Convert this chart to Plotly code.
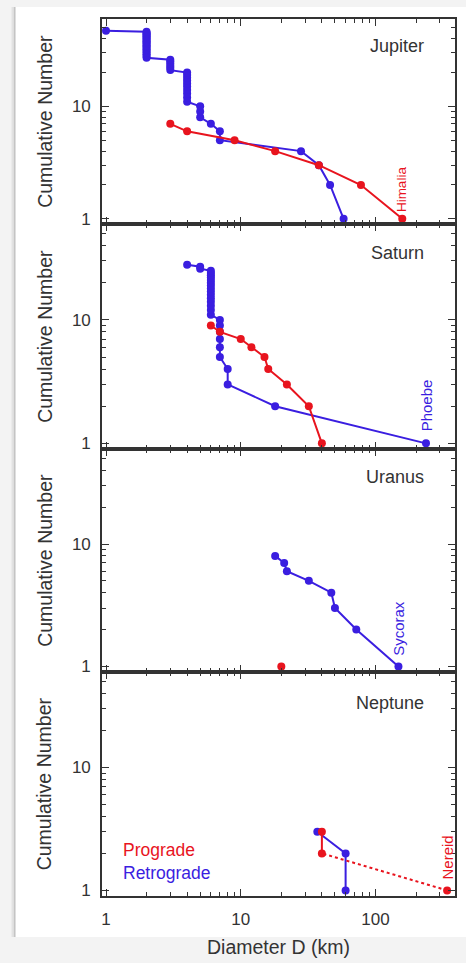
import plotly.graph_objects as go
from plotly.subplots import make_subplots
import math

# ---------------- data ----------------
planets = ["Jupiter", "Saturn", "Uranus", "Neptune"]

# Jupiter
jup_retro_D = [58, 46, 38, 28, 7, 7, 6, 5, 5, 5,
               4, 4, 4, 4, 4, 4, 4, 4, 4, 4,
               3, 3, 3, 3, 3, 3,
               2, 2, 2, 2, 2, 2, 2, 2, 2, 2, 2, 2, 2, 2, 2, 2, 2, 2, 2, 2,
               1]
jup_retro_N = [1, 2, 3, 4, 5, 6, 7, 8, 9, 10,
               11, 12, 13, 14, 15, 16, 17, 18, 19, 20,
               21, 22, 23, 24, 25, 26,
               27, 28, 29, 30, 31, 32, 33, 34, 35, 36, 37, 38, 39, 40, 41, 42, 43, 44, 45, 46,
               47]
jup_pro_D = [158, 78, 38, 18, 9, 4, 3]
jup_pro_N = [1, 2, 3, 4, 5, 6, 7]

# Saturn
sat_retro_D = [237, 18, 8, 8, 7, 7, 7, 7, 7, 7,
               6, 6, 6, 6, 6, 6, 6, 6, 6, 6, 6, 6, 6, 6, 6,
               5, 5, 4]
sat_retro_N = [1, 2, 3, 4, 5, 6, 7, 8, 9, 10,
               11, 12, 13, 14, 15, 16, 17, 18, 19, 20, 21, 22, 23, 24, 25,
               26, 27, 28]
sat_pro_D = [40, 32, 22, 16, 15, 12, 10, 7, 6]
sat_pro_N = [1, 2, 3, 4, 5, 6, 7, 8, 9]

# Uranus
ura_retro_D = [148, 72, 50, 47, 32, 22, 21, 18]
ura_retro_N = [1, 2, 3, 4, 5, 6, 7, 8]
ura_pro_D = [20]
ura_pro_N = [1]

# Neptune
nep_retro_D = [60, 60, 37]
nep_retro_N = [1, 2, 3]
nep_pro_D = [340, 40, 40]
nep_pro_N = [1, 2, 3]

# largest moon labels: (panel, name, diameter, N, colour key)
moon_labels = [("Jupiter", "Himalia", 158, 1, "pro"),
               ("Saturn", "Phoebe", 237, 1, "retro"),
               ("Uranus", "Sycorax", 148, 1, "retro"),
               ("Neptune", "Nereid", 340, 1, "pro")]

x_tickvals = [1, 10, 100]
x_ticktext = ["1", "10", "100"]
x_minor = [2, 3, 4, 5, 6, 7, 8, 9, 20, 30, 40, 50, 60, 70, 80, 90, 200, 300]
y_tickvals = [1, 10]
y_ticktext = ["1", "10"]
y_minor = [2, 3, 4, 5, 6, 7, 8, 9, 20, 30, 40, 50]

# ---------------- layout geometry ----------------
W, H = 466, 963
L, R, T, B = 102, 457, 19, 896  # plot area in px


def fx(p):
    return (p - L) / (R - L)


def fy(p):
    return (B - p) / (B - T)


BLUE = "#3a1ee0"
RED = "#e8141e"
INK = "#333333"
FONT = "Liberation Sans, Arial, Helvetica, sans-serif"

panel_px = [(19, 224), (224, 449), (449, 672), (672, 896)]

fig = make_subplots(rows=4, cols=1, shared_xaxes=True, vertical_spacing=0)

series = {
    "Jupiter": (jup_retro_D, jup_retro_N, jup_pro_D, jup_pro_N),
    "Saturn": (sat_retro_D, sat_retro_N, sat_pro_D, sat_pro_N),
    "Uranus": (ura_retro_D, ura_retro_N, ura_pro_D, ura_pro_N),
    "Neptune": (nep_retro_D, nep_retro_N, nep_pro_D, nep_pro_N),
}

MS = 8
for i, p in enumerate(planets):
    row = i + 1
    rD, rN, pD, pN = series[p]
    fig.add_trace(go.Scatter(x=rD, y=rN, mode="lines+markers",
                             line=dict(color=BLUE, width=2),
                             marker=dict(color=BLUE, size=MS),
                             name="Retrograde", showlegend=False), row=row, col=1)
    if p == "Neptune":
        # dotted link to Nereid, solid for the rest
        fig.add_trace(go.Scatter(x=pD[:2], y=pN[:2], mode="lines",
                                 line=dict(color=RED, width=2, dash="dot"),
                                 showlegend=False), row=row, col=1)
        fig.add_trace(go.Scatter(x=pD[1:], y=pN[1:], mode="lines",
                                 line=dict(color=RED, width=2),
                                 showlegend=False), row=row, col=1)
        fig.add_trace(go.Scatter(x=pD, y=pN, mode="markers",
                                 marker=dict(color=RED, size=MS),
                                 name="Prograde", showlegend=False), row=row, col=1)
    else:
        fig.add_trace(go.Scatter(x=pD, y=pN, mode="lines+markers",
                                 line=dict(color=RED, width=2),
                                 marker=dict(color=RED, size=MS),
                                 name="Prograde", showlegend=False), row=row, col=1)

axis_common = dict(type="log", showgrid=False, zeroline=False,
                   showline=True, linecolor=INK, linewidth=1.6,
                   mirror="allticks", ticks="inside", ticklen=7,
                   tickwidth=1.2, tickcolor=INK,
                   tickfont=dict(family=FONT, size=17, color=INK))

for i in range(4):
    top, bot = panel_px[i]
    yname = "yaxis" if i == 0 else f"yaxis{i+1}"
    xname = "xaxis" if i == 0 else f"xaxis{i+1}"
    fig.layout[yname].update(
        domain=[fy(bot), fy(top)],
        range=[math.log10(0.9), math.log10(59.8)],
        tickmode="array", tickvals=y_tickvals, ticktext=y_ticktext,
        minor=dict(tickmode="array", tickvals=y_minor, ticks="inside",
                   ticklen=4, tickwidth=1, tickcolor=INK),
        ticklabelstandoff=6,
        **axis_common)
    fig.layout[xname].update(
        range=[math.log10(0.934), math.log10(389)],
        tickmode="array", tickvals=x_tickvals, ticktext=x_ticktext,
        minor=dict(tickmode="array", tickvals=x_minor, ticks="inside",
                   ticklen=4, tickwidth=1, tickcolor=INK),
        showticklabels=(i == 3), ticklabelstandoff=7,
        **axis_common)

annotations = []
title_y = {"Jupiter": 46, "Saturn": 253, "Uranus": 477, "Neptune": 703}
for i, p in enumerate(planets):
    top, bot = panel_px[i]
    annotations.append(dict(text="Cumulative Number", xref="paper", yref="paper",
                            x=fx(44), y=fy((top + bot) / 2), textangle=-90,
                            xanchor="center", yanchor="middle", showarrow=False,
                            font=dict(family=FONT, size=19.5, color=INK)))
    annotations.append(dict(text=p, xref="paper", yref="paper",
                            x=fx(428), y=fy(title_y[p]),
                            xanchor="right", yanchor="middle", showarrow=False,
                            font=dict(family=FONT, size=18, color=INK)))

label_shift = {"Himalia": 30, "Phoebe": 38, "Sycorax": 38, "Nereid": 33}
label_size = {"Himalia": 13.5, "Phoebe": 15, "Sycorax": 15, "Nereid": 15}
for p, name, d, n, kind in moon_labels:
    i = planets.index(p)
    xr = "x" if i == 0 else f"x{i+1}"
    yr = "y" if i == 0 else f"y{i+1}"
    annotations.append(dict(text=name, xref=xr, yref=yr,
                            x=math.log10(d), y=math.log10(n), textangle=-90,
                            xanchor="center", yanchor="middle",
                            yshift=label_shift[name], showarrow=False,
                            font=dict(family=FONT, size=label_size[name],
                                      color=RED if kind == "pro" else BLUE)))

annotations.append(dict(text="Prograde", xref="paper", yref="paper",
                        x=fx(121), y=fy(850), xanchor="left", yanchor="middle",
                        showarrow=False, font=dict(family=FONT, size=17.5, color=RED)))
annotations.append(dict(text="Retrograde", xref="paper", yref="paper",
                        x=fx(121), y=fy(873), xanchor="left", yanchor="middle",
                        showarrow=False, font=dict(family=FONT, size=17.5, color=BLUE)))
annotations.append(dict(text="Diameter D (km)", xref="paper", yref="paper",
                        x=fx((L + R) / 2), y=fy(947), xanchor="center", yanchor="middle",
                        showarrow=False, font=dict(family=FONT, size=19.5, color=INK)))

shapes = [
    dict(type="rect", xref="paper", yref="paper", x0=fx(15), x1=fx(470),
         y0=fy(937), y1=fy(7), fillcolor="white", line=dict(width=0), layer="below"),
    dict(type="line", xref="paper", yref="paper", x0=fx(14), x1=fx(14),
         y0=fy(937), y1=fy(7), line=dict(color="#c4c4c4", width=2), layer="below"),
    dict(type="line", xref="paper", yref="paper", x0=fx(12), x1=fx(12),
         y0=fy(937), y1=fy(7), line=dict(color="#e2e2e2", width=2), layer="below"),
]

fig.update_layout(width=W, height=H,
                  margin=dict(l=L, r=W - R, t=T, b=H - B, pad=0),
                  paper_bgcolor="#f3f3f3", plot_bgcolor="white",
                  font=dict(family=FONT, color=INK),
                  showlegend=False, annotations=annotations, shapes=shapes)

fig.write_html("out.html")
